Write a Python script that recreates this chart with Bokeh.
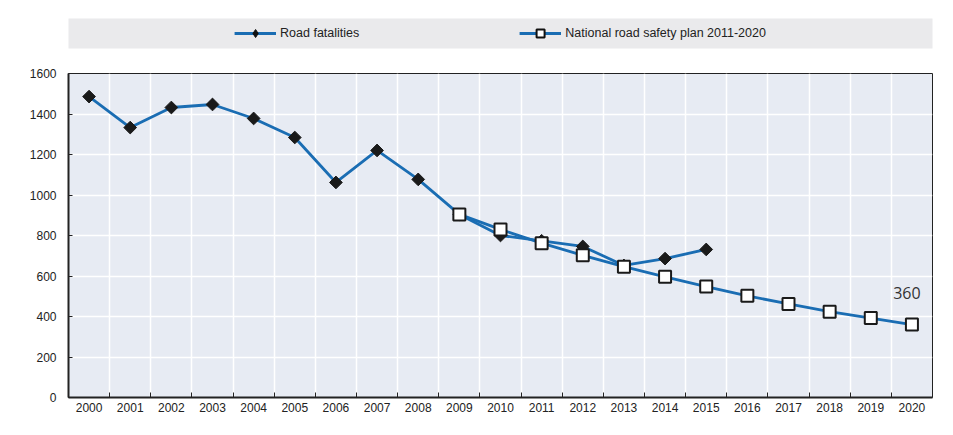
import numpy as np
from bokeh.plotting import figure
from bokeh.models import (ColumnDataSource, Range1d, FixedTicker, Legend, LegendItem, Label)
from bokeh.layouts import column
from bokeh.embed import file_html
from bokeh.resources import INLINE

# ---- data ----
years_actual = [2000, 2001, 2002, 2003, 2004, 2005, 2006, 2007, 2008, 2009,
                2010, 2011, 2012, 2013, 2014, 2015]
road_fatalities = [1486, 1333, 1432, 1447, 1378, 1284, 1062, 1220, 1077, 904,
                   800, 774, 746, 652, 686, 731]
years_plan = [2009, 2010, 2011, 2012, 2013, 2014, 2015, 2016, 2017, 2018, 2019, 2020]
plan_values = [904, 830, 762, 702, 646, 596, 548, 502, 462, 424, 392, 360]
all_years = list(range(2000, 2021))
y_ticks = [0, 200, 400, 600, 800, 1000, 1200, 1400, 1600]
series_names = ["Road fatalities", "National road safety plan 2011-2020"]
end_label = "360"

BLUE = "#1A6DB3"
FONT = "Liberation Sans"
TXT = "#222222"

# ---- legend strip ----
top = figure(width=945, height=56, output_backend="svg", toolbar_location=None,
             x_range=Range1d(0, 1), y_range=Range1d(0, 1),
             min_border_left=68, min_border_right=13, min_border_top=18, min_border_bottom=8,
             background_fill_color="#EAEAEC", border_fill_color="white", outline_line_color=None)
top.axis.visible = False
top.grid.visible = False
# dummy (off-range) renderers that only feed the legend
l1 = top.line(x=[-10, -9], y=[-10, -9], line_color=BLUE, line_width=3)
m1 = top.scatter(x=[-10], y=[-10], marker="diamond", size=12,
                 fill_color="#111111", line_color="#111111")
l2 = top.line(x=[-10, -9], y=[-10, -9], line_color=BLUE, line_width=3)
m2 = top.scatter(x=[-10], y=[-10], marker="square", size=10, fill_color="white",
                 line_color="#111111", line_width=2)
leg = Legend(items=[LegendItem(label=series_names[0], renderers=[l1, m1]),
                    LegendItem(label=series_names[1], renderers=[l2, m2])],
             orientation="horizontal", location="center", spacing=160,
             glyph_width=42, label_standoff=4, padding=0, margin=0,
             background_fill_alpha=0, border_line_alpha=0,
             label_text_font=FONT, label_text_font_size="12.5px", label_text_color=TXT)
top.add_layout(leg, "center")

# ---- main chart ----
p = figure(width=945, height=371, output_backend="svg", toolbar_location=None,
           x_range=Range1d(1999.5, 2020.5), y_range=Range1d(0, 1600),
           min_border_left=66, min_border_right=10, min_border_top=17, min_border_bottom=30,
           background_fill_color="#E7EBF3", border_fill_color="white",
           outline_line_color="#222222", outline_line_width=1)

src_a = ColumnDataSource(dict(x=years_actual, y=road_fatalities))
src_p = ColumnDataSource(dict(x=years_plan, y=plan_values))

p.line("x", "y", source=src_p, line_color=BLUE, line_width=2.8)
p.line("x", "y", source=src_a, line_color=BLUE, line_width=2.8)
p.scatter("x", "y", source=src_a, marker="square", angle=np.pi / 4, size=9,
          fill_color="#1a1a1a", line_color="#1a1a1a")
p.scatter("x", "y", source=src_p, marker="square", size=12, fill_color="white",
          line_color="#1a1a1a", line_width=2)

boundaries = [y + 0.5 for y in all_years[:-1]]
p.xaxis.ticker = FixedTicker(ticks=all_years, minor_ticks=boundaries)
p.xaxis.major_tick_in = 0
p.xaxis.major_tick_out = 0
p.xaxis.minor_tick_in = 5
p.xaxis.minor_tick_out = 0
p.xaxis.major_label_overrides = {y: str(y) for y in all_years}
p.xgrid.ticker = FixedTicker(ticks=boundaries)

p.yaxis.ticker = FixedTicker(ticks=y_ticks)
p.yaxis.major_tick_in = 4
p.yaxis.major_tick_out = 0
p.yaxis.minor_tick_in = 0
p.yaxis.minor_tick_out = 0
p.yaxis.major_label_standoff = 12

for ax in (p.xaxis, p.yaxis):
    ax.axis_line_color = "#222222"
    ax.axis_line_width = 2
    ax.major_tick_line_color = "#222222"
    ax.minor_tick_line_color = "#222222"
    ax.major_label_text_font = FONT
    ax.major_label_text_font_size = "12px"
    ax.major_label_text_color = TXT

p.grid.grid_line_color = "white"
p.grid.grid_line_width = 1.5

p.add_layout(Label(x=years_plan[-1], y=plan_values[-1], text=end_label,
                   x_offset=-5, y_offset=32, text_align="center", text_baseline="middle",
                   text_font="Open Sans", text_font_size="16px", text_color="#333333"))

layout = column(top, p, spacing=0)
open("out.html", "w").write(file_html(layout, INLINE))
